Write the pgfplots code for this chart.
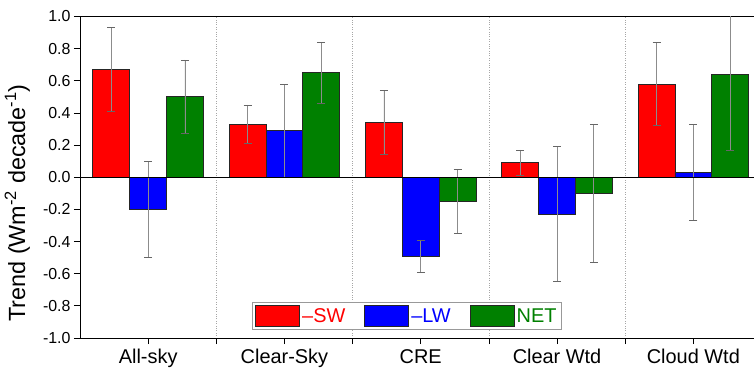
\documentclass[border=0pt]{standalone}
\usepackage{pgfplots}
\pgfplotsset{compat=1.18}
\usepackage{fontspec}
\setmainfont{Liberation Sans}
\definecolor{cSW}{RGB}{255,0,0}
\definecolor{cLW}{RGB}{0,0,255}
\definecolor{cNET}{RGB}{0,128,0}
\pgfplotsset{
  mylegend/.style={legend image code/.code={\draw[##1,/tikz/.cd,line width=0.9pt,draw=black!85] (0bp,-10.5bp) rectangle (44bp,10.5bp);}},
}
\begin{document}
\begin{tikzpicture}
\path[use as bounding box] (-80bp,-33bp) rectangle (674bp,338bp);
\begin{axis}[
  at={(0,0)}, anchor=south west,
  scale only axis, width=674bp, height=321.5bp,
  xmin=-0.5, xmax=4.445, ymin=-1, ymax=1,
  ybar=0pt, bar width=0.27,
  axis y line*=left,
  axis line style={line width=0.9pt},
  xtick={0,1,2,3,4},
  xticklabels={All-sky, Clear-Sky, CRE, Clear Wtd, Cloud Wtd},
  xtick pos=left, ytick pos=left,
  tick align=outside,
  major tick length=6bp,
  tick style={black, line width=0.8pt},
  ytick={-1,-0.8,-0.6,-0.4,-0.2,0,0.2,0.4,0.6,0.8,1},
  yticklabel style={font=\fontsize{16}{19}\selectfont, /pgf/number format/.cd, fixed, fixed zerofill, precision=1, assume math mode=true},
  xticklabel style={font=\fontsize{20}{24}\selectfont, yshift=-2bp},
  extra x ticks={0.5,1.5,2.5,3.5},
  extra x tick labels={},
  extra x tick style={grid=major, major grid style={black!35, dotted, line width=0.6pt}, xtick pos=left},
  every axis y label/.style={at={(axis description cs:-0.093,0.42)}, rotate=90, anchor=center, font=\fontsize{23.5}{27}\selectfont},
  ylabel={Trend (Wm\textsuperscript{-2} decade\textsuperscript{-1})},
  error bars/y dir=both, error bars/y explicit,
  error bars/error bar style={black!45, line width=0.8pt},
  error bars/error mark options={rotate=90, mark size=4bp, black!60, line width=0.8pt},
  legend columns=3,
  legend style={at={(0.485,0.025)}, anchor=south, draw=black!40, line width=0.8pt,
    font=\fontsize{20}{24}\selectfont, inner sep=2.5bp,
    /tikz/every even column/.append style={column sep=17bp}},
]
\addplot[fill=cSW, draw=black!85, line width=0.9pt, mylegend]
  coordinates {(0,0.67) +- (0,0.26) (1,0.33) +- (0,0.12) (2,0.34) +- (0,0.20) (3,0.09) +- (0,0.08) (4,0.58) +- (0,0.26)};
\addlegendentry{\textcolor{cSW}{–SW}}
\addplot[fill=cLW, draw=black!85, line width=0.9pt, mylegend]
  coordinates {(0,-0.20) +- (0,0.30) (1,0.29) +- (0,0.29) (2,-0.49) +- (0,0.10) (3,-0.23) +- (0,0.42) (4,0.03) +- (0,0.30)};
\addlegendentry{\textcolor{cLW}{–LW}}
\addplot[fill=cNET, draw=black!85, line width=0.9pt, mylegend]
  coordinates {(0,0.50) +- (0,0.23) (1,0.65) +- (0,0.19) (2,-0.15) +- (0,0.20) (3,-0.10) +- (0,0.43) (4,0.64) +- (0,0.47)};
\addlegendentry{\textcolor{cNET}{NET}}
\draw[black, line width=0.9pt] (axis cs:-0.5,0) -- (axis cs:4.445,0);
\end{axis}
\end{tikzpicture}
\end{document}
